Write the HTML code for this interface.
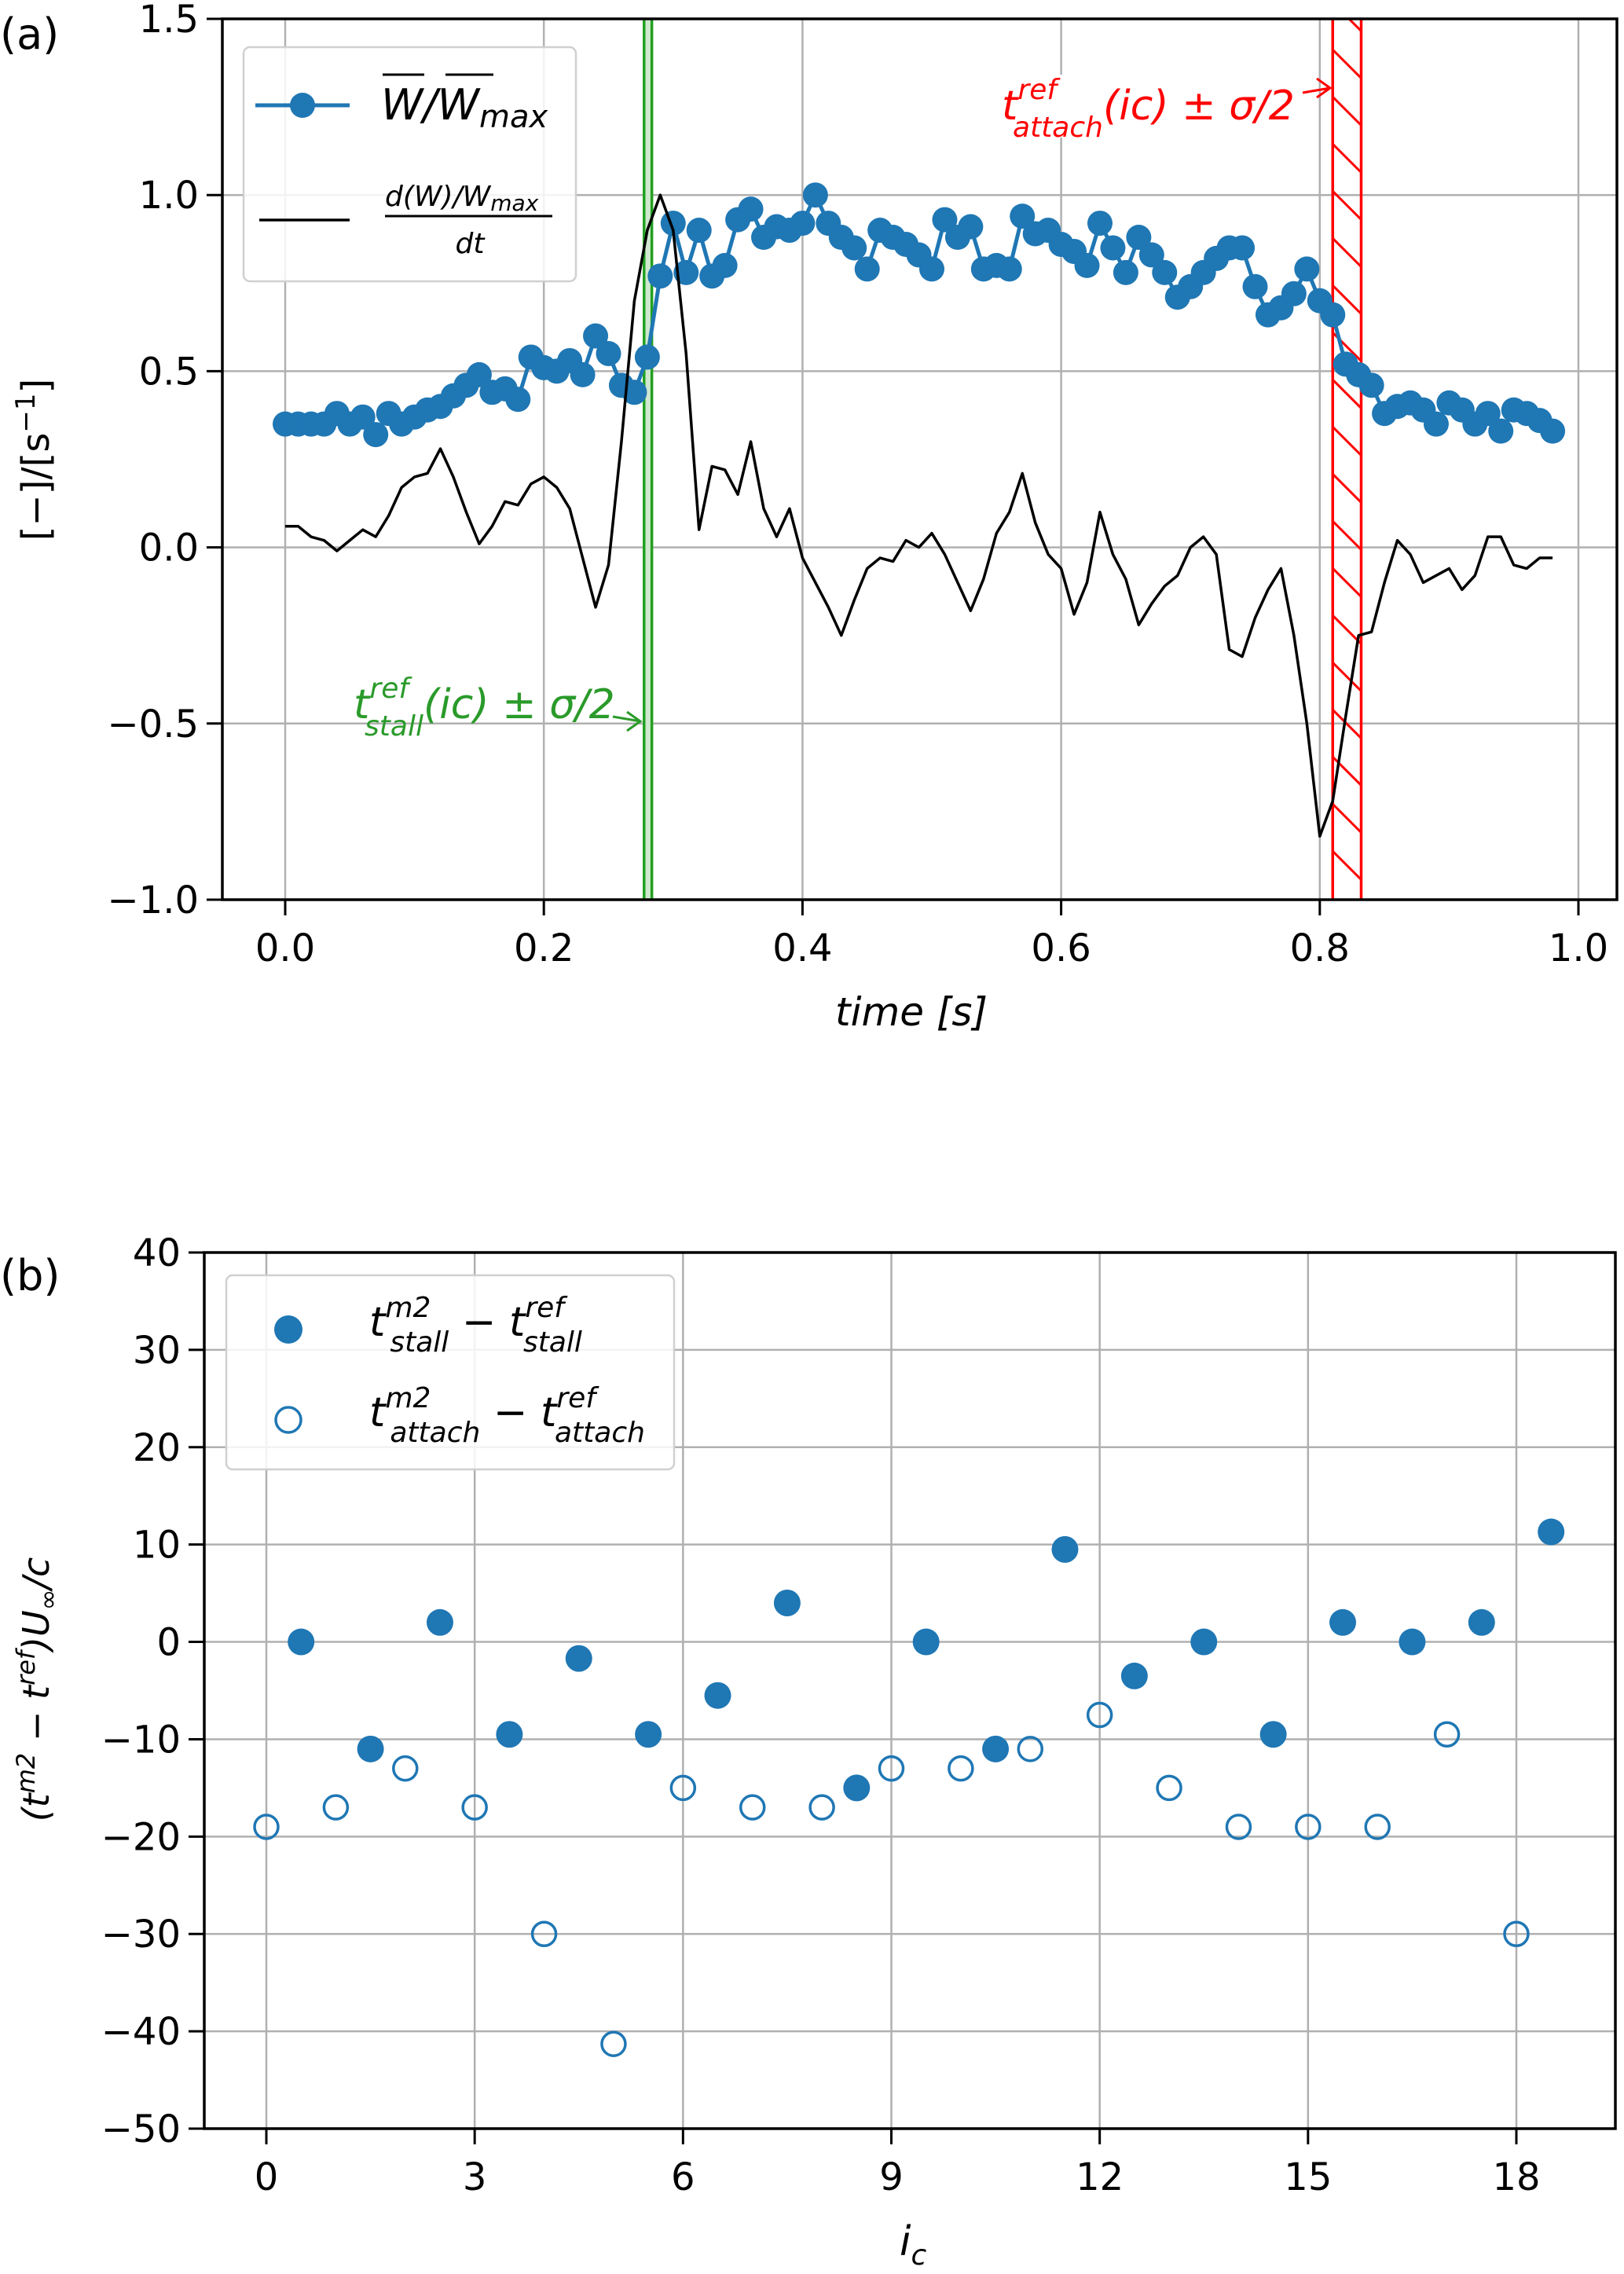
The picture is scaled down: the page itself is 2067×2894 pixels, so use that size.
<!DOCTYPE html>
<html><head><meta charset="utf-8">
<style>
html,body{margin:0;padding:0;background:#fff;}
svg{display:block;}
text{font-family:"DejaVu Sans","Liberation Sans",sans-serif;}
</style></head>
<body>
<svg id="fig" width="2067" height="2894" viewBox="0 0 2067 2894" xmlns="http://www.w3.org/2000/svg">
<defs>
<clipPath id="clipA"><rect x="283" y="24" width="1775" height="1121"/></clipPath>
<clipPath id="clipB"><rect x="260" y="1594" width="1796" height="1115"/></clipPath>
<pattern id="hatch" patternUnits="userSpaceOnUse" width="60" height="60" patternTransform="translate(1693,0)">
<line x1="-10" y1="-10" x2="70" y2="70" stroke="#ff0000" stroke-width="3"/>
</pattern>
</defs>
<g id="panelA"></g>
<g id="panelB"></g>
</svg>
<script>
// ---------- Panel (a) data ----------
const timeA = [0.00,0.01,0.02,0.03,0.04,0.05,0.06,0.07,0.08,0.09,0.10,0.11,0.12,0.13,0.14,0.15,0.16,0.17,0.18,0.19,0.20,0.21,0.22,0.23,0.24,0.25,0.26,0.27,0.28,0.29,0.30,0.31,0.32,0.33,0.34,0.35,0.36,0.37,0.38,0.39,0.40,0.41,0.42,0.43,0.44,0.45,0.46,0.47,0.48,0.49,0.50,0.51,0.52,0.53,0.54,0.55,0.56,0.57,0.58,0.59,0.60,0.61,0.62,0.63,0.64,0.65,0.66,0.67,0.68,0.69,0.70,0.71,0.72,0.73,0.74,0.75,0.76,0.77,0.78,0.79,0.80,0.81,0.82,0.83,0.84,0.85,0.86,0.87,0.88,0.89,0.90,0.91,0.92,0.93,0.94,0.95,0.96,0.97,0.98];
const wNorm = [0.35,0.35,0.35,0.35,0.38,0.35,0.37,0.32,0.38,0.35,0.37,0.39,0.40,0.43,0.46,0.49,0.44,0.45,0.42,0.54,0.51,0.50,0.53,0.49,0.60,0.55,0.46,0.44,0.54,0.77,0.92,0.78,0.90,0.77,0.80,0.93,0.96,0.88,0.91,0.90,0.92,1.00,0.92,0.88,0.85,0.79,0.90,0.88,0.86,0.83,0.79,0.93,0.88,0.91,0.79,0.80,0.79,0.94,0.89,0.90,0.86,0.84,0.80,0.92,0.85,0.78,0.88,0.83,0.78,0.71,0.74,0.78,0.82,0.85,0.85,0.74,0.66,0.68,0.72,0.79,0.70,0.66,0.52,0.49,0.46,0.38,0.40,0.41,0.39,0.35,0.41,0.39,0.35,0.38,0.33,0.39,0.38,0.36,0.33];
const dWdt = [0.06,0.06,0.03,0.02,-0.01,0.02,0.05,0.03,0.09,0.17,0.20,0.21,0.28,0.20,0.10,0.01,0.06,0.13,0.12,0.18,0.20,0.17,0.11,-0.03,-0.17,-0.05,0.30,0.70,0.90,1.00,0.90,0.55,0.05,0.23,0.22,0.15,0.30,0.11,0.03,0.11,-0.03,-0.10,-0.17,-0.25,-0.15,-0.06,-0.03,-0.04,0.02,0.00,0.04,-0.02,-0.10,-0.18,-0.09,0.04,0.10,0.21,0.07,-0.02,-0.06,-0.19,-0.10,0.10,-0.02,-0.09,-0.22,-0.16,-0.11,-0.08,0.00,0.03,-0.02,-0.29,-0.31,-0.20,-0.12,-0.06,-0.25,-0.50,-0.82,-0.72,-0.48,-0.25,-0.24,-0.10,0.02,-0.02,-0.10,-0.08,-0.06,-0.12,-0.08,0.03,0.03,-0.05,-0.06,-0.03,-0.03];
const xTicksA = [0.0,0.2,0.4,0.6,0.8,1.0];
const xTickLabelsA = ["0.0","0.2","0.4","0.6","0.8","1.0"];
const yTicksA = [1.5,1.0,0.5,0.0,-0.5,-1.0];
const yTickLabelsA = ["1.5","1.0","0.5","0.0","\u22120.5","\u22121.0"];
const stallBand = [0.2775,0.2835];
const attachBand = [0.810,0.832];

// ---------- Panel (b) data ----------
const icStall = [0.5,1.5,2.5,3.5,4.5,5.5,6.5,7.5,8.5,9.5,10.5,11.5,12.5,13.5,14.5,15.5,16.5,17.5,18.5];
const stallDiff = [0,-11,2,-9.5,-1.7,-9.5,-5.5,4,-15,0,-11,9.5,-3.5,0,-9.5,2,0,2,11.3];
const icAttach = [0,1,2,3,4,5,6,7,8,9,10,11,12,13,14,15,16,17,18];
const attachDiff = [-19,-17,-13,-17,-30,-41.3,-15,-17,-17,-13,-13,-11,-7.5,-15,-19,-19,-19,-9.5,-30];
const xTicksB = [0,3,6,9,12,15,18];
const xTickLabelsB = ["0","3","6","9","12","15","18"];
const yTicksB = [40,30,20,10,0,-10,-20,-30,-40,-50];
const yTickLabelsB = ["40","30","20","10","0","\u221210","\u221220","\u221230","\u221240","\u221250"];

const NS = "http://www.w3.org/2000/svg";
const BLUE = "#1f77b4";
function mk(tag, attrs, parent){
  const e = document.createElementNS(NS, tag);
  for (const k in attrs) e.setAttribute(k, attrs[k]);
  parent.appendChild(e);
  return e;
}

// Axis functions
const A = {l:283,r:2058,t:24,b:1145};
const xA = v => 363 + v*1646;
const yA = v => A.t + (1.5 - v)*(A.b-A.t)/2.5;
const B = {l:260,r:2056,t:1594,b:2709};
const xB = v => 339 + v*(1930-339)/18;
const yB = v => B.t + (40 - v)*(B.b-B.t)/90;

// ===== Panel A =====
const pa = document.getElementById('panelA');
const gridA = mk('g',{},pa);


xTicksA.forEach((v,i)=>{
  mk('line',{x1:xA(v),x2:xA(v),y1:A.t,y2:A.b,stroke:'#b0b0b0','stroke-width':2.5},gridA);
  mk('line',{x1:xA(v),x2:xA(v),y1:A.b,y2:A.b+20,stroke:'#000','stroke-width':3},pa);
  const t = mk('text',{x:xA(v),y:A.b+78,'font-size':48,'text-anchor':'middle'},pa);
  t.textContent = xTickLabelsA[i];
  
  
});
yTicksA.forEach((v,i)=>{
  mk('line',{x1:A.l,x2:A.r,y1:yA(v),y2:yA(v),stroke:'#b0b0b0','stroke-width':2.5},gridA);
  mk('line',{x1:A.l-20,x2:A.l,y1:yA(v),y2:yA(v),stroke:'#000','stroke-width':3},pa);
  const t = mk('text',{x:A.l-30,y:yA(v)+17,'font-size':48,'text-anchor':'end'},pa);
  t.textContent = yTickLabelsA[i];
  
  
});
const plotA = mk('g',{'clip-path':'url(#clipA)'},pa);
const gb = mk('g',{},plotA);


mk('rect',{x:xA(stallBand[0]),y:A.t,width:xA(stallBand[1])-xA(stallBand[0]),height:A.b-A.t,fill:'#cfe8cf'},gb);
mk('line',{x1:xA(stallBand[0]),x2:xA(stallBand[0]),y1:A.t,y2:A.b,stroke:'#22a022','stroke-width':3.5},gb);
mk('line',{x1:xA(stallBand[1]),x2:xA(stallBand[1]),y1:A.t,y2:A.b,stroke:'#22a022','stroke-width':3.5},gb);
const rb = mk('g',{},plotA);


mk('rect',{x:xA(attachBand[0]),y:A.t,width:xA(attachBand[1])-xA(attachBand[0]),height:A.b-A.t,fill:'url(#hatch)'},rb);
mk('line',{x1:xA(attachBand[0]),x2:xA(attachBand[0]),y1:A.t,y2:A.b,stroke:'#ff0000','stroke-width':3.5},rb);
mk('line',{x1:xA(attachBand[1]),x2:xA(attachBand[1]),y1:A.t,y2:A.b,stroke:'#ff0000','stroke-width':3.5},rb);
const wLine = mk('polyline',{points:timeA.map((t,i)=>xA(t)+','+yA(wNorm[i])).join(' '),fill:'none',stroke:BLUE,'stroke-width':5},plotA);


timeA.forEach((t,i)=>{
  const c = mk('circle',{cx:xA(t),cy:yA(wNorm[i]),r:16,fill:BLUE},plotA);
  
  
});
const dLine = mk('polyline',{points:timeA.map((t,i)=>xA(t)+','+yA(dWdt[i])).join(' '),fill:'none',stroke:'#000','stroke-width':3.5,'stroke-linejoin':'round'},plotA);


const spA = mk('rect',{x:A.l,y:A.t,width:A.r-A.l,height:A.b-A.t,fill:'none',stroke:'#000','stroke-width':3.5},pa);


</script>
<script>
(function(){
const pa = document.getElementById('panelA');
const an1 = mk('g',{},pa);


mk('rect',{x:1270,y:95,width:390,height:80,fill:'#fff'},an1);
let t = mk('text',{x:1275,y:152,fill:'#ff0000','font-size':52,'font-style':'italic'},an1);
t.innerHTML = 't<tspan dy="-26" font-size="36">ref</tspan><tspan dx="-56" dy="48" font-size="36">attach</tspan><tspan dy="-22">(ic) \u00b1 \u03c3/2</tspan>';
mk('path',{d:'M1658,118 L1693,112 M1676,100 L1693,112 L1676,124',fill:'none',stroke:'#ff0000','stroke-width':3},an1);

const an2 = mk('g',{},pa);


t = mk('text',{x:450,y:914,fill:'#2a9a2a','font-size':52,'font-style':'italic'},an2);
t.innerHTML = 't<tspan dy="-26" font-size="36">ref</tspan><tspan dx="-56" dy="48" font-size="36">stall</tspan><tspan dy="-22">(ic) \u00b1 \u03c3/2</tspan>';
mk('path',{d:'M780,912 L815,918 M798,906 L815,918 L798,930',fill:'none',stroke:'#2a9a2a','stroke-width':3},an2);

const lg = mk('g',{},pa);


mk('rect',{x:310,y:60,width:423,height:298,rx:8,fill:'#fff','fill-opacity':0.85,stroke:'#d0d0d0','stroke-width':2.5},lg);
mk('line',{x1:325,x2:445,y1:134,y2:134,stroke:BLUE,'stroke-width':5},lg);
mk('circle',{cx:385,cy:134,r:16,fill:BLUE},lg);
t = mk('text',{x:485,y:152,'font-size':54,'font-style':'italic'},lg);
t.innerHTML = 'W/W<tspan font-size="40" dy="10">max</tspan>';
mk('line',{x1:487,x2:540,y1:95,y2:95,stroke:'#000','stroke-width':3},lg);
mk('line',{x1:567,x2:628,y1:95,y2:95,stroke:'#000','stroke-width':3},lg);
mk('line',{x1:330,x2:445,y1:280,y2:280,stroke:'#000','stroke-width':3.5},lg);
t = mk('text',{x:490,y:262,'font-size':36,'font-style':'italic'},lg);
t.innerHTML = 'd(W)/W<tspan font-size="28" dy="6">max</tspan>';
mk('line',{x1:490,x2:703,y1:275,y2:275,stroke:'#000','stroke-width':3},lg);
t = mk('text',{x:598,y:322,'font-size':36,'font-style':'italic','text-anchor':'middle'},lg);
t.textContent = 'dt';

t = mk('text',{x:0,y:62,'font-size':54},pa);
t.textContent = '(a)';


t = mk('text',{x:1160,y:1305,'font-size':50,'font-style':'italic','text-anchor':'middle'},pa);
t.textContent = 'time [s]';


t = mk('text',{x:0,y:0,'font-size':48,'text-anchor':'middle',transform:'translate(62,585) rotate(-90)'},pa);
t.innerHTML = '[\u2212]/[s<tspan font-size="34" dy="-18">\u22121</tspan><tspan dy="18">]</tspan>';



// ===== Panel B =====
const pb = document.getElementById('panelB');
const gridB = mk('g',{},pb);


xTicksB.forEach((v,i)=>{
  mk('line',{x1:xB(v),x2:xB(v),y1:B.t,y2:B.b,stroke:'#b0b0b0','stroke-width':2.5},gridB);
  mk('line',{x1:xB(v),x2:xB(v),y1:B.b,y2:B.b+20,stroke:'#000','stroke-width':3},pb);
  const tt = mk('text',{x:xB(v),y:B.b+78,'font-size':48,'text-anchor':'middle'},pb);
  tt.textContent = xTickLabelsB[i];
  
  
});
yTicksB.forEach((v,i)=>{
  mk('line',{x1:B.l,x2:B.r,y1:yB(v),y2:yB(v),stroke:'#b0b0b0','stroke-width':2.5},gridB);
  mk('line',{x1:B.l-20,x2:B.l,y1:yB(v),y2:yB(v),stroke:'#000','stroke-width':3},pb);
  const tt = mk('text',{x:B.l-30,y:yB(v)+17,'font-size':48,'text-anchor':'end'},pb);
  tt.textContent = yTickLabelsB[i];
  
  
});
const plotB = mk('g',{'clip-path':'url(#clipB)'},pb);
icStall.forEach((x,i)=>{
  const c = mk('circle',{cx:xB(x),cy:yB(stallDiff[i]),r:17,fill:BLUE},plotB);
  
  
});
icAttach.forEach((x,i)=>{
  const c = mk('circle',{cx:xB(x),cy:yB(attachDiff[i]),r:15,fill:'none',stroke:BLUE,'stroke-width':3.5},plotB);
  
  
});
const spB = mk('rect',{x:B.l,y:B.t,width:B.r-B.l,height:B.b-B.t,fill:'none',stroke:'#000','stroke-width':3.5},pb);



const lb = mk('g',{},pb);


mk('rect',{x:288,y:1623,width:570,height:247,rx:8,fill:'#fff','fill-opacity':0.85,stroke:'#d0d0d0','stroke-width':2.5},lb);
mk('circle',{cx:367,cy:1692,r:18,fill:BLUE},lb);
mk('circle',{cx:367,cy:1807,r:16,fill:'none',stroke:BLUE,'stroke-width':3.5},lb);
t = mk('text',{x:470,y:1700,'font-size':52,'font-style':'italic'},lb);
t.innerHTML = 't<tspan dy="-24" font-size="36">m2</tspan><tspan dx="-52" dy="44" font-size="36">stall</tspan><tspan dy="-20" font-style="normal"> \u2212 </tspan>t<tspan dy="-24" font-size="36">ref</tspan><tspan dx="-52" dy="44" font-size="36">stall</tspan>';
t = mk('text',{x:470,y:1815,'font-size':52,'font-style':'italic'},lb);
t.innerHTML = 't<tspan dy="-24" font-size="36">m2</tspan><tspan dx="-52" dy="44" font-size="36">attach</tspan><tspan dy="-20" font-style="normal"> \u2212 </tspan>t<tspan dy="-24" font-size="36">ref</tspan><tspan dx="-52" dy="44" font-size="36">attach</tspan>';

t = mk('text',{x:0,y:1642,'font-size':54},pb);
t.textContent = '(b)';


t = mk('text',{x:1145,y:2870,'font-size':52,'font-style':'italic'},pb);
t.innerHTML = 'i<tspan font-size="36" dy="12">c</tspan>';


t = mk('text',{x:0,y:0,'font-size':46,'font-style':'italic','text-anchor':'middle',transform:'translate(62,2150) rotate(-90)'},pb);
t.innerHTML = '(t<tspan font-size="32" dy="-18">m2</tspan><tspan dy="18" font-style="normal"> \u2212 </tspan>t<tspan font-size="32" dy="-18">ref</tspan><tspan dy="18">)U</tspan><tspan font-size="32" dy="10">\u221e</tspan><tspan dy="-10">/c</tspan>';


})();
</script>
</body></html>
